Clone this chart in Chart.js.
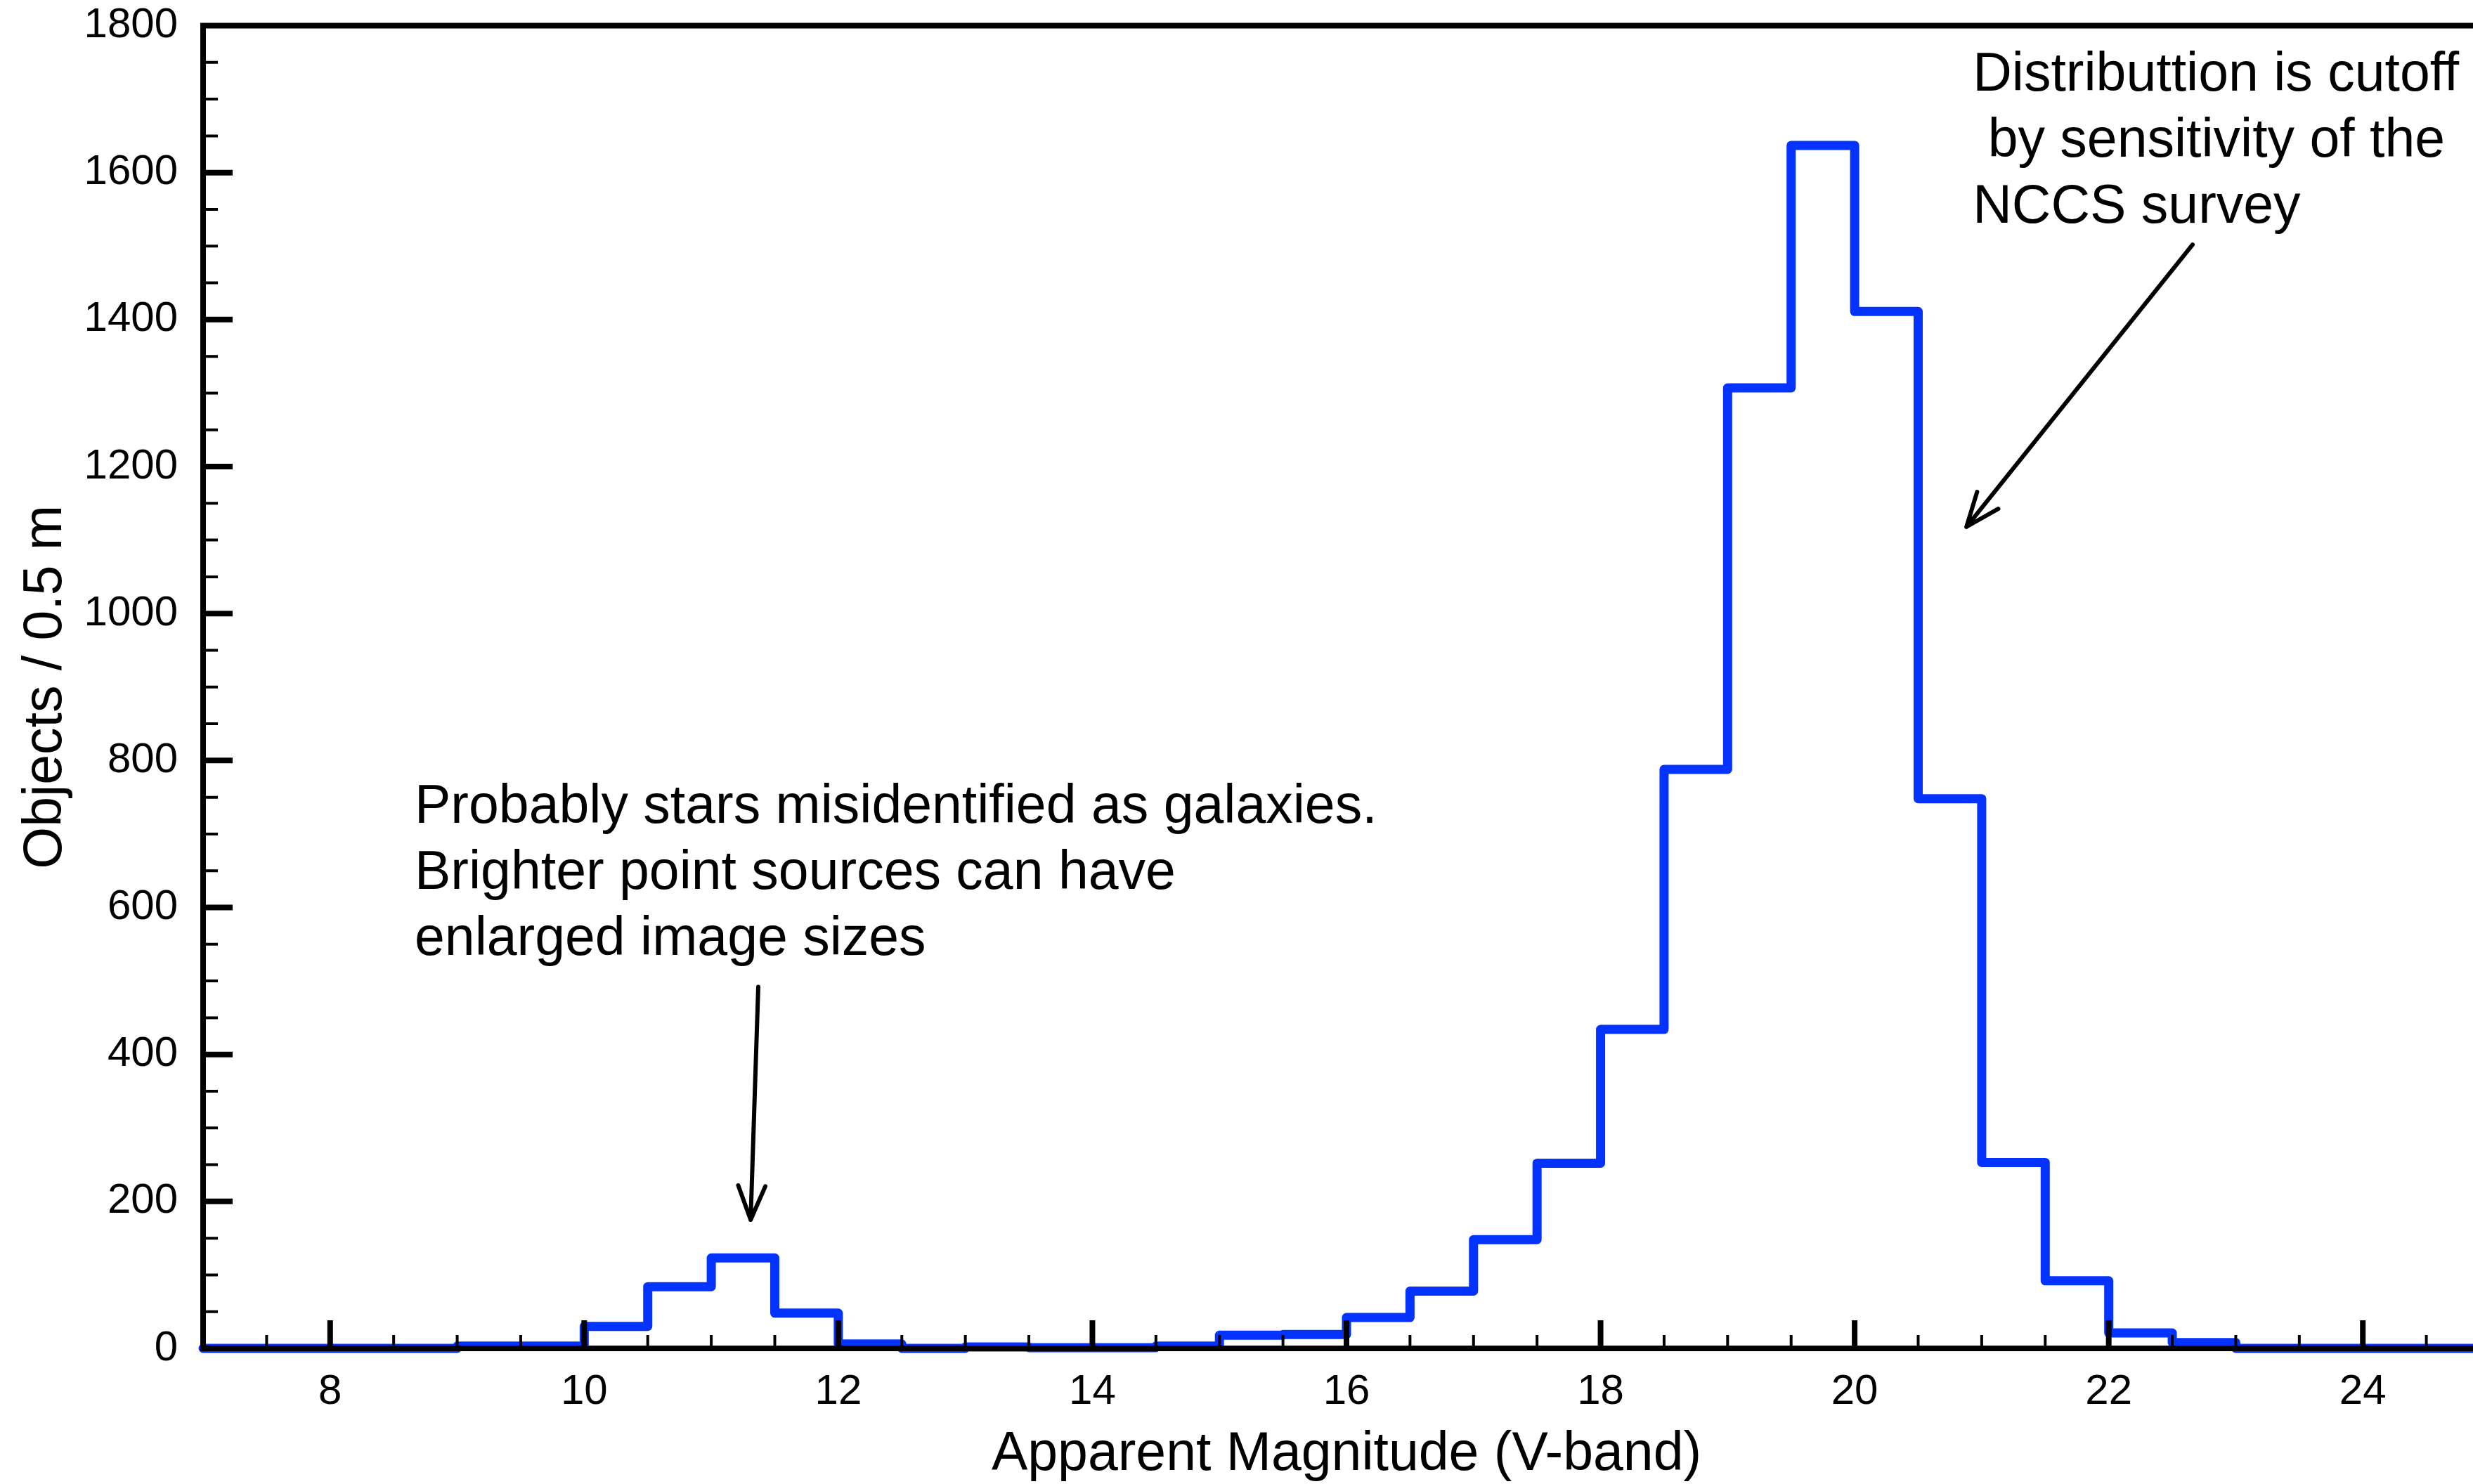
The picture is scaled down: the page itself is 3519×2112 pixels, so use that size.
<!DOCTYPE html>
<html>
<head>
<meta charset="utf-8">
<script src="https://cdn.jsdelivr.net/npm/chart.js@4/dist/chart.umd.min.js"></script>
<style>
  html, body { margin: 0; padding: 0; background: #fff; overflow: hidden; }
  canvas { display: block; }
</style>
</head>
<body>
<canvas id="histChart" width="3600" height="2112"></canvas>
<script>
// bins of 0.5 mag, left edges
const binStarts = [7, 7.5, 8, 8.5, 9, 9.5, 10, 10.5, 11, 11.5, 12, 12.5, 13, 13.5, 14, 14.5, 15, 15.5,
                   16, 16.5, 17, 17.5, 18, 18.5, 19, 19.5, 20, 20.5, 21, 21.5, 22, 22.5, 23, 23.5, 24, 24.5];
const counts    = [0, 0, 0, 0, 3, 3, 30, 84, 123, 48, 6, 0, 2, 1, 1, 3, 18, 19,
                   42, 78, 148, 252, 434, 788, 1307, 1637, 1411, 748, 253, 92, 21, 8, 0, 0, 0, 0];
const binWidth = 0.5;
const xTickLabels = [8, 10, 12, 14, 16, 18, 20, 22, 24];
const yTickLabels = [0, 200, 400, 600, 800, 1000, 1200, 1400, 1600, 1800];

const noteLeft = ['Probably stars misidentified as galaxies.', 'Brighter point sources can have', 'enlarged image sizes'];
const noteRight = ['Distributtion is cutoff', ' by sensitivity of the', 'NCCS survey'];

const BLUE = '#0433ff';
const FONT = '"Liberation Sans", Arial, Helvetica, sans-serif';

const points = binStarts.map((x, i) => ({ x: x, y: counts[i] }));
points.push({ x: binStarts[binStarts.length - 1] + binWidth, y: counts[counts.length - 1] });

function drawArrow(ctx, x1, y1, x2, y2) {
  const a = Math.atan2(y2 - y1, x2 - x1), len = 52, half = 0.38;
  ctx.beginPath();
  ctx.moveTo(x1, y1); ctx.lineTo(x2, y2);
  ctx.moveTo(x2 - len * Math.cos(a - half), y2 - len * Math.sin(a - half));
  ctx.lineTo(x2, y2);
  ctx.lineTo(x2 - len * Math.cos(a + half), y2 - len * Math.sin(a + half));
  ctx.stroke();
}

const frame = {
  id: 'frame',
  afterDatasetsDraw(chart) {
    const { ctx, chartArea: ca, scales: { x, y } } = chart;
    ctx.save();
    ctx.strokeStyle = '#000';
    ctx.lineCap = 'butt';
    // minor ticks
    ctx.lineWidth = 4;
    ctx.beginPath();
    for (let v = 7.5; v < 25; v += 0.5) {
      if (v % 2 === 0) continue;
      const px = x.getPixelForValue(v);
      ctx.moveTo(px, ca.bottom); ctx.lineTo(px, ca.bottom - 19);
    }
    for (let v = 50; v < 1800; v += 50) {
      if (v % 200 === 0) continue;
      const py = y.getPixelForValue(v);
      ctx.moveTo(ca.left, py); ctx.lineTo(ca.left + 21, py);
    }
    ctx.stroke();
    // major ticks
    ctx.lineWidth = 8;
    ctx.beginPath();
    xTickLabels.forEach(v => {
      const px = x.getPixelForValue(v);
      ctx.moveTo(px, ca.bottom); ctx.lineTo(px, ca.bottom - 40);
    });
    yTickLabels.forEach(v => {
      if (v === 0 || v === 1800) return;
      const py = y.getPixelForValue(v);
      ctx.moveTo(ca.left, py); ctx.lineTo(ca.left + 42, py);
    });
    ctx.stroke();
    // axes box
    ctx.lineWidth = 8;
    ctx.lineJoin = 'miter';
    ctx.strokeRect(ca.left, ca.top, ca.right - ca.left, ca.bottom - ca.top);
    ctx.restore();
  },
  afterDraw(chart) {
    const { ctx, scales: { x, y } } = chart;
    ctx.save();
    ctx.fillStyle = '#000';
    ctx.font = '77px ' + FONT;
    ctx.textAlign = 'left';
    ctx.textBaseline = 'alphabetic';
    noteLeft.forEach((t, i) => ctx.fillText(t, x.getPixelForValue(8.665), y.getPixelForValue(715) + i * 94));
    noteRight.forEach((t, i) => ctx.fillText(t, x.getPixelForValue(20.93), y.getPixelForValue(1712) + i * 94));
    ctx.strokeStyle = '#000';
    ctx.lineWidth = 6;
    ctx.lineCap = 'round';
    ctx.lineJoin = 'round';
    drawArrow(ctx, x.getPixelForValue(11.37), y.getPixelForValue(492), x.getPixelForValue(11.31), y.getPixelForValue(175));
    drawArrow(ctx, x.getPixelForValue(22.66), y.getPixelForValue(1502), x.getPixelForValue(20.88), y.getPixelForValue(1118));
    ctx.restore();
  }
};

Chart.defaults.font.family = FONT;
Chart.defaults.color = '#000';

new Chart(document.getElementById('histChart'), {
  type: 'line',
  data: {
    datasets: [{
      data: points,
      stepped: 'before',
      borderColor: BLUE,
      borderWidth: 13,
      borderJoinStyle: 'round',
      borderCapStyle: 'round',
      pointRadius: 0,
      fill: false,
      clip: false
    }]
  },
  options: {
    responsive: false,
    animation: false,
    layout: { padding: { top: 36.5, right: 57, left: 0, bottom: 0 } },
    plugins: { legend: { display: false }, tooltip: { enabled: false } },
    scales: {
      x: {
        type: 'linear',
        min: 7,
        max: 25,
        grid: { display: false, drawTicks: false },
        border: { display: false },
        afterBuildTicks: s => { s.ticks = xTickLabels.map(v => ({ value: v })); },
        afterFit: s => { s.height = 193; s.paddingLeft = 0; s.paddingRight = 0; },
        ticks: { font: { size: 60 }, padding: 26.5, maxRotation: 0, autoSkip: false, callback: v => String(v) },
        title: {
          display: true,
          text: 'Apparent Magnitude (V-band)',
          font: { size: 77, lineHeight: 1 },
          padding: { top: 0, bottom: 3 }
        }
      },
      y: {
        min: 0,
        max: 1800,
        grid: { display: false, drawTicks: false },
        border: { display: false },
        afterBuildTicks: s => { s.ticks = yTickLabels.map(v => ({ value: v })); },
        afterFit: s => { s.width = 289; s.paddingTop = 0; s.paddingBottom = 0; },
        ticks: { font: { size: 60 }, padding: 36, callback: v => String(v) },
        title: {
          display: true,
          text: 'Objects / 0.5 m',
          font: { size: 77, lineHeight: 1 },
          padding: { top: 27, bottom: 0 }
        }
      }
    }
  },
  plugins: [frame]
});
</script>
</body>
</html>
